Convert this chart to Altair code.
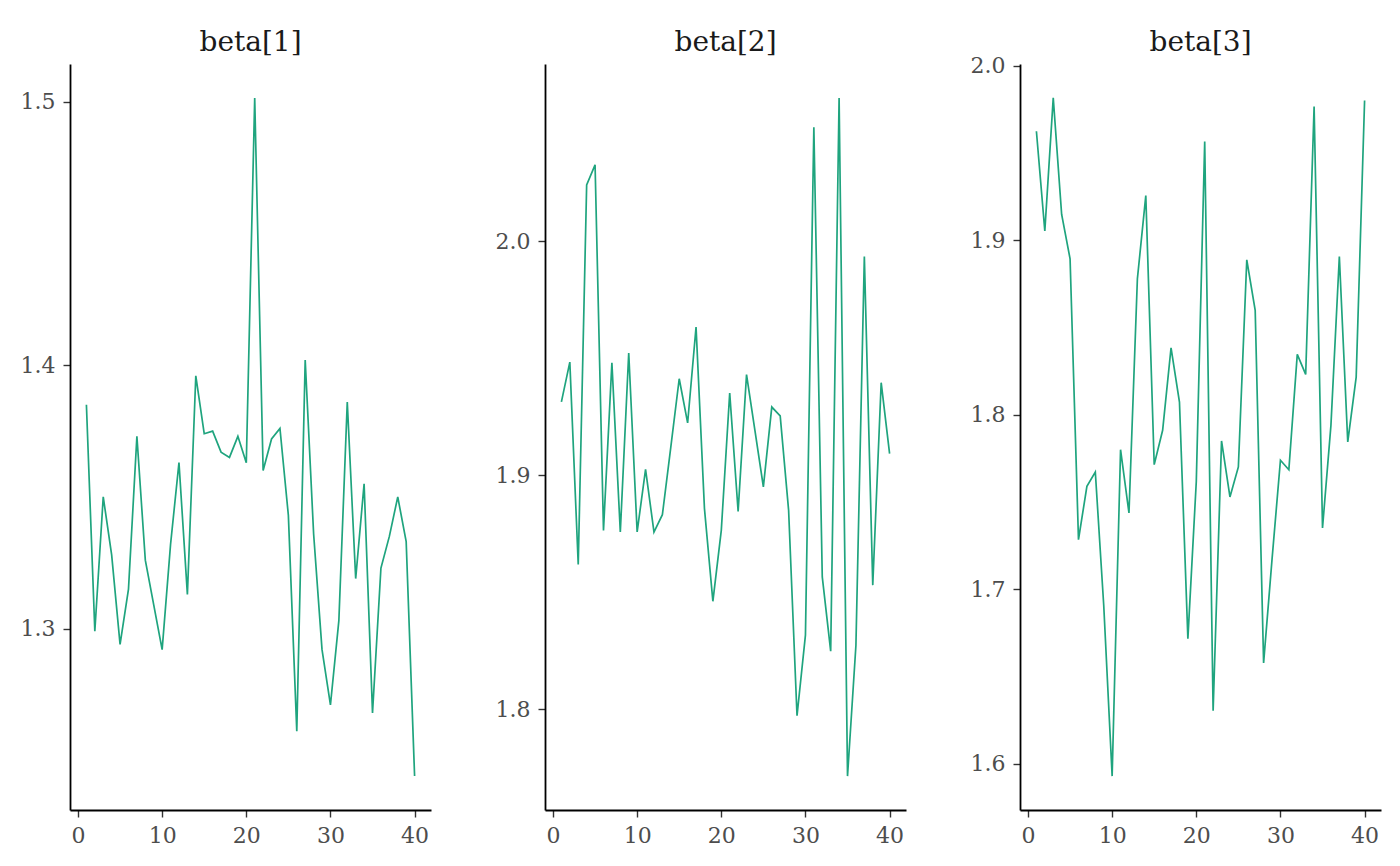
import altair as alt
import pandas as pd

iterations = list(range(1, 41))
beta1 = [1.385, 1.299, 1.350, 1.328, 1.294, 1.315, 1.373, 1.326, 1.309, 1.292,
         1.332, 1.363, 1.313, 1.396, 1.374, 1.375, 1.367, 1.365, 1.373, 1.363,
         1.5015, 1.360, 1.372, 1.376, 1.343, 1.261, 1.402, 1.336, 1.292, 1.271,
         1.303, 1.386, 1.319, 1.355, 1.268, 1.323, 1.335, 1.350, 1.333, 1.244]
beta2 = [1.9313, 1.9483, 1.8618, 2.024, 2.0326, 1.8764, 1.948, 1.8757, 1.9522, 1.8757,
         1.9025, 1.8757, 1.8831, 1.912, 1.9412, 1.9223, 1.9633, 1.8857, 1.8461, 1.8764,
         1.9351, 1.8845, 1.9430, 1.919, 1.8950, 1.9291, 1.9253, 1.885, 1.7972, 1.8316,
         2.0487, 1.8565, 1.8248, 2.0612, 1.7714, 1.8273, 1.9934, 1.853, 1.9395, 1.9092]
beta3 = [1.9624, 1.9052, 1.9815, 1.9147, 1.8893, 1.7283, 1.7589, 1.7671, 1.6907, 1.5928,
         1.7799, 1.7436, 1.8778, 1.9255, 1.7713, 1.791, 1.8383, 1.8072, 1.6716, 1.7616,
         1.9565, 1.6302, 1.7849, 1.7528, 1.77, 1.8887, 1.8597, 1.6577, 1.717, 1.7738,
         1.7684, 1.8345, 1.823, 1.9765, 1.735, 1.7938, 1.8906, 1.7843, 1.8215, 1.98]

panel_titles = ["beta[1]", "beta[2]", "beta[3]"]
series = [beta1, beta2, beta3]
x_ticks = [0, 10, 20, 30, 40]

LINE_COLOR = "#1fa47e"
FONT = "DejaVu Serif"
W, H = 361, 746
# ggplot-style 5% expansion expressed as pixel padding
PAD_X = 0.05 * W / 1.1
PAD_Y = 0.05 * H / 1.1

rows = []
for name, vals in zip(panel_titles, series):
    for it, v in zip(iterations, vals):
        rows.append({"parameter": name, "iteration": it, "value": v})
df = pd.DataFrame(rows)

base = (
    alt.Chart(df)
    .mark_line(color=LINE_COLOR, strokeWidth=1.7)
    .encode(
        x=alt.X("iteration:Q",
                scale=alt.Scale(nice=False, zero=False, padding=PAD_X),
                axis=alt.Axis(values=x_ticks, title=None, format="d")),
        y=alt.Y("value:Q",
                scale=alt.Scale(nice=False, zero=False, padding=PAD_Y),
                axis=alt.Axis(title=None, format=".1f", tickCount=4)),
    )
    .properties(width=W, height=H)
)

chart = (
    base.facet(
        column=alt.Column(
            "parameter:N",
            sort=panel_titles,
            title=None,
            header=alt.Header(labelFont=FONT, labelFontSize=28, labelColor="#1a1a1a",
                              labelPadding=-3),
        ),
        spacing=64,
    )
    .resolve_scale(y="independent", x="independent")
    .properties(padding={"left": 12, "top": 21, "right": 5, "bottom": 5})
    .configure_view(stroke=None)
    .configure_axis(
        grid=False,
        domainColor="#000000",
        domainWidth=1.8,
        tickColor="#333333",
        tickWidth=1.4,
        tickSize=7,
        labelColor="#4d4d4d",
        labelFont=FONT,
        labelFontSize=22,
        labelPadding=8,
    )
)

chart.save("out.html", embed_options={"renderer": "svg", "actions": False})
